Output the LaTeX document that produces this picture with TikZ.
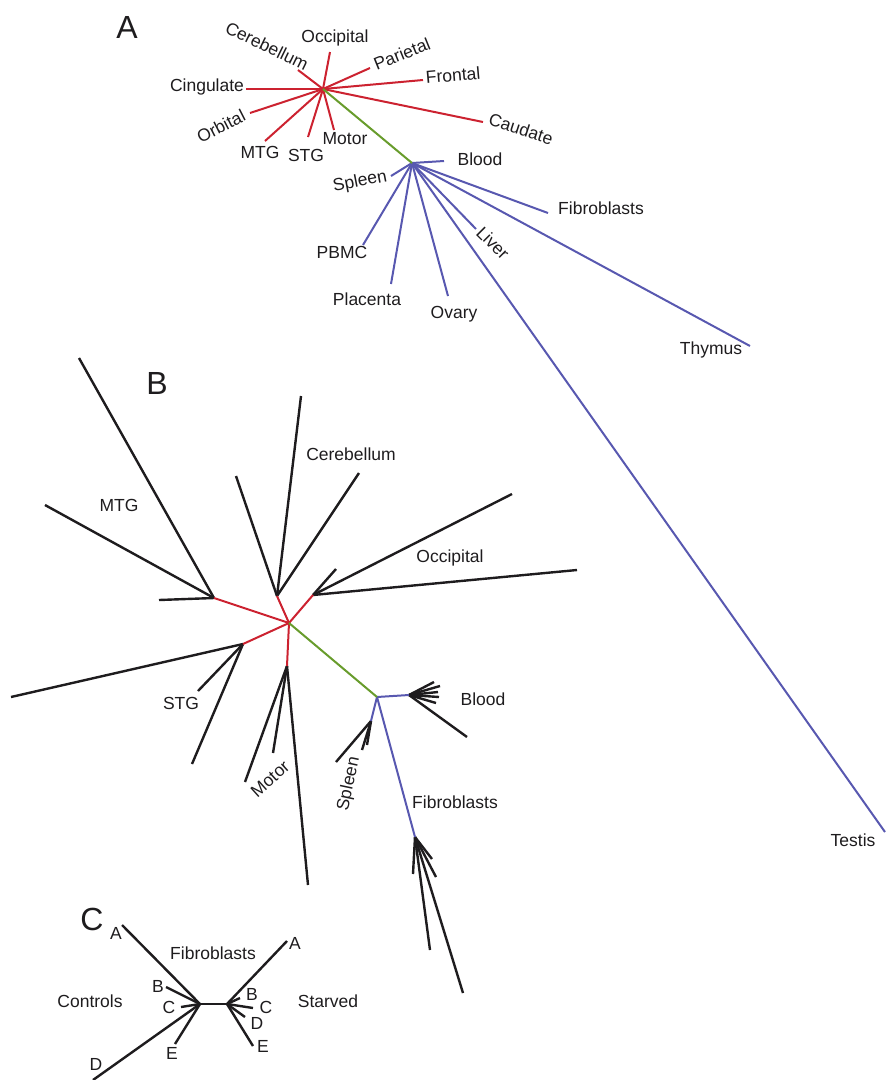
\documentclass[tikz,border=0pt]{standalone}
\usepackage{fontspec}
\setmainfont{Liberation Sans}
\usepackage{xcolor}
\usetikzlibrary{positioning}
\definecolor{brainred}{RGB}{204,34,48}
\definecolor{stemgreen}{RGB}{104,156,44}
\definecolor{tissueblue}{RGB}{88,88,176}
\definecolor{leafblack}{RGB}{30,28,30}

\begin{document}
\begin{tikzpicture}[x=1pt,y=-1pt]

\tikzset{lbl/.style={
  inner sep=0pt,
  text=leafblack,
  font=\fontsize{17.5}{20}\selectfont
  },
  panel/.style={inner sep=0pt, text=leafblack, font=\fontsize{32}{36}\selectfont},
  brain/.style={draw=brainred, line width=2pt},
  stem/.style={draw=stemgreen, line width=2pt},
  tissue/.style={draw=tissueblue, line width=2pt},
  leaf/.style={draw=leafblack, line width=2.4pt}
}
\useasboundingbox (0,0) rectangle (886,1080);

%% A
\node[panel] (pA) at (127,27) {A};
\coordinate (Ahub) at (323,89);
\coordinate (Athub) at (412,163);
\foreach \n/\x/\y in {occ/330/52, cer/298/70, par/370/68, fro/423/80, cau/483/122,
    cin/246/89, orb/250/113, mtg/265/141, stg/308/137, mot/334/130}
  \coordinate (A\n) at (\x,\y);
\foreach \n/\x/\y in {blo/444/161, spl/391/176, pbm/363/245, pla/391/284, ova/448/296,
    liv/476/229, fib/548/213, thy/750/346, tes/885/832}
  \coordinate (A\n) at (\x,\y);

\foreach \n in {occ,cer,par,fro,cau,cin,orb,mtg,stg,mot}
  \path[brain] (Ahub) -- (A\n);
\foreach \n in {blo,spl,pbm,pla,ova,liv,fib,thy,tes}
  \path[tissue] (Athub) -- (A\n);
\path[stem] (Ahub) -- (Athub);

\node[lbl] (lAocc) at (335,38) {Occipital};
\node[lbl, rotate=-26] (lAcer) at (267,46) {Cerebellum};
\node[lbl, rotate=22] (lApar) at (402,54) {Parietal};
\node[lbl, rotate=5] (lAfro) at (453,75) {Frontal};
\node[lbl, rotate=-18] (lAcau) at (521,129) {Caudate};
\node[lbl] (lAcin) at (207,87) {Cingulate};
\node[lbl, rotate=27] (lAorb) at (221,126) {Orbital};
\node[lbl] (lAmtg) at (260,152) {MTG};
\node[lbl] (lAstg) at (306,155) {STG};
\node[lbl] (lAmot) at (345,139) {Motor};
\node[lbl] (lAblo) at (480,159) {Blood};
\node[lbl, rotate=11] (lAspl) at (360,182) {Spleen};
\node[lbl] (lApbm) at (342,252) {PBMC};
\node[lbl] (lApla) at (367,299) {Placenta};
\node[lbl] (lAova) at (454,314) {Ovary};
\node[lbl, rotate=-45] (lAliv) at (493,243) {Liver};
\node[lbl] (lAfib) at (601,208) {Fibroblasts};
\node[lbl] (lAthy) at (711,350) {Thymus};
\node[lbl] (lAtes) at (853,840) {Testis};

%% B
\node[panel] (pB) at (157,383) {B};
\coordinate (Bhub) at (289,623);
\coordinate (Bmtg) at (214,598);
\coordinate (Bcer) at (277,596);
\coordinate (Bocc) at (313,595);
\coordinate (Bstg) at (243,644);
\coordinate (Bmot) at (287,666);
\coordinate (Bthub) at (377,697);
\coordinate (Bblo) at (409,695);
\coordinate (Bspl) at (371,721);
\coordinate (Bfib) at (415,837);

% leaves
\foreach \p in {(79,358),(45,505),(159,600)} \path[leaf] (Bmtg) -- \p;
\foreach \p in {(301,396),(236,476),(359,473)} \path[leaf] (Bcer) -- \p;
\foreach \p in {(336,569),(512,494),(577,570)} \path[leaf] (Bocc) -- \p;
\foreach \p in {(11,697),(198,691),(192,764)} \path[leaf] (Bstg) -- \p;
\foreach \p in {(245,782),(273,753),(308,885)} \path[leaf] (Bmot) -- \p;
\foreach \p in {(434,682),(440,686),(438,692),(439,697),(436,703),(467,737)} \path[leaf] (Bblo) -- \p;
\foreach \p in {(336,762),(362,750),(367,745)} \path[leaf] (Bspl) -- \p;
\foreach \p in {(413,874),(432,859),(436,877),(430,950),(463,993)} \path[leaf] (Bfib) -- \p;

\foreach \n in {mtg,cer,occ,stg,mot}
  \path[brain] (Bhub) -- (B\n);
\foreach \n in {blo,spl,fib}
  \path[tissue] (Bthub) -- (B\n);
\path[stem] (Bhub) -- (Bthub);

\node[lbl] (lBmtg) at (119,505) {MTG};
\node[lbl] (lBcer) at (351,454) {Cerebellum};
\node[lbl] (lBocc) at (450,558) {Occipital};
\node[lbl] (lBstg) at (181,703) {STG};
\node[lbl, rotate=42] (lBmot) at (270,779) {Motor};
\node[lbl] (lBblo) at (483,699) {Blood};
\node[lbl, rotate=78] (lBspl) at (349,784) {Spleen};
\node[lbl] (lBfib) at (455,802) {Fibroblasts};

%% C
\node[panel] (pC) at (92,919) {C};
\coordinate (Cl) at (200,1004);
\coordinate (Cr) at (227,1004);
\path[leaf] (Cl) -- (Cr);
\foreach \n/\x/\y in {a/122/925, b/166/987, c/181/1007, d/93/1080, e/175/1044}
  \path[leaf] (Cl) -- (\x,\y) coordinate (Cl\n);
\foreach \n/\x/\y in {a/287/941, b/240/998, c/253/1008, d/245/1017, e/253/1046}
  \path[leaf] (Cr) -- (\x,\y) coordinate (Cr\n);

\node[lbl] (lCla) at (116,933) {A};
\node[lbl] (lClb) at (158,986) {B};
\node[lbl] (lClc) at (169,1007) {C};
\node[lbl] (lCld) at (96,1064) {D};
\node[lbl] (lCle) at (172,1053) {E};
\node[lbl] (lCra) at (295,943) {A};
\node[lbl] (lCrb) at (252,994) {B};
\node[lbl] (lCrc) at (266,1007) {C};
\node[lbl] (lCrd) at (257,1023) {D};
\node[lbl] (lCre) at (263,1046) {E};
\node[lbl] (lCfib) at (213,953) {Fibroblasts};
\node[lbl] (lCcon) at (90,1001) {Controls};
\node[lbl] (lCsta) at (328,1001) {Starved};
\end{tikzpicture}
\end{document}
